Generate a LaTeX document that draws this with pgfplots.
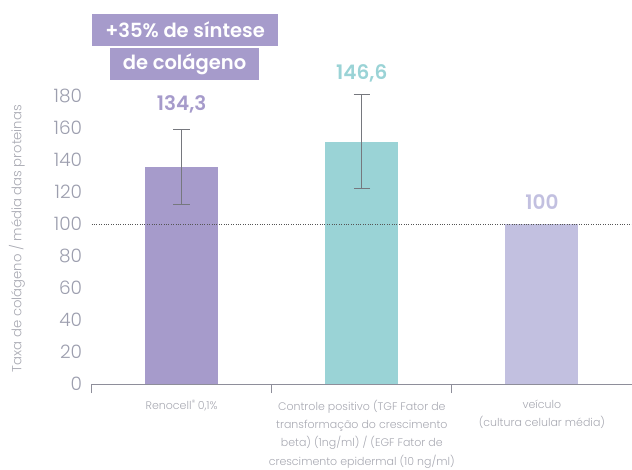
\documentclass[border=0pt]{standalone}
\usepackage{pgfplots}
\pgfplotsset{compat=1.18}
\usepackage{fontspec}
\setmainfont{Poppins}[UprightFont={* Light}, BoldFont={* SemiBold}]
\definecolor{cA}{HTML}{A69BCB}
\definecolor{cB}{HTML}{9AD3D6}
\definecolor{cC}{HTML}{C2C0E0}
\definecolor{tickc}{HTML}{9C9EAE}
\definecolor{labc}{HTML}{A8A9B2}
\definecolor{errc}{HTML}{76787E}
\definecolor{axisc}{HTML}{8E8E9A}
\definecolor{dotc}{HTML}{555555}
\begin{document}
\begin{tikzpicture}[x=1pt,y=1pt]
\path[use as bounding box] (-91.6,-85) rectangle (540.4,384);
\begin{axis}[
 at={(0,0)}, anchor=south west,
 scale only axis, width=540.4pt, height=288pt,
 xmin=-0.5, xmax=2.5, ymin=0, ymax=180,
 clip=false,
 axis x line=bottom, axis y line=left,
 y axis line style={draw=none},
 x axis line style={draw=axisc, line width=0.9pt, -},
 /pgf/number format/assume math mode=true,
 ytick={0,20,...,180},
 major tick length=0pt,
 yticklabel style={font=\fontsize{18.5}{18.5}\selectfont, text=tickc, anchor=east, xshift=-6pt},
 xtick={0,1,2},
 xticklabels={{Renocell\textsuperscript{\textregistered}\,0,1\%},
   {Controle positivo (TGF Fator de\\transformação do crescimento\\beta) (1ng/ml) / (EGF Fator de\\crescimento epidermal (10 ng/ml)},
   {veículo\\(cultura celular média)}},
 xticklabel style={font=\fontsize{11}{18.3}\selectfont, text=labc, align=center, anchor=north, yshift=-12.5pt},
 minor xtick={-0.5,0.5,1.5},
 minor tick length=9pt,
 xtick align=outside,
 minor x tick style={draw=axisc, line width=0.9pt},
 ylabel={Taxa de colágeno / média das proteinas},
 every axis y label/.style={at={(axis description cs:-0.138,0.505)}, anchor=center, rotate=90, font=\fontsize{13.2}{13.2}\selectfont, text=labc},
]
\addplot[ybar, bar width=73pt, bar shift=0pt, fill=cA, draw=none,
  error bars/.cd, y dir=both, y explicit,
  error bar style={draw=errc, line width=1pt},
  error mark options={rotate=90, draw=errc, line width=1pt, mark size=8.3pt}]
  coordinates {(0,135.4) +- (0,23.5)};
\addplot[ybar, bar width=73pt, bar shift=0pt, fill=cB, draw=none,
  error bars/.cd, y dir=both, y explicit,
  error bar style={draw=errc, line width=1pt},
  error mark options={rotate=90, draw=errc, line width=1pt, mark size=8.3pt}]
  coordinates {(1,151.5) +- (0,29.2)};
\addplot[ybar, bar width=73pt, bar shift=0pt, fill=cC, draw=none]
  coordinates {(2,100)};
\addplot[dotc, line width=0.8pt, dash pattern=on 0.8pt off 1.6pt, forget plot]
  coordinates {(-0.5,100) (2.5,100)};
\node[font=\bfseries\fontsize{20}{20}\selectfont, text=cA] at (axis cs:0,175) {134,3};
\node[font=\bfseries\fontsize{20}{20}\selectfont, text=cB] at (axis cs:1,194.4) {146,6};
\node[font=\bfseries\fontsize{20}{20}\selectfont, text=cC] at (axis cs:2,113.75) {100};
\node[fill=cA, text=white, font=\bfseries\fontsize{19.5}{19.5}\selectfont, minimum height=32pt, inner xsep=13pt, inner ysep=0pt] at (axis cs:0.019,221.25) {+35\% de síntese};
\node[fill=cA, text=white, font=\bfseries\fontsize{19.5}{19.5}\selectfont, minimum height=32pt, inner xsep=13pt, inner ysep=0pt] at (axis cs:0.016,200) {de colágeno};
\end{axis}
\end{tikzpicture}
\end{document}
